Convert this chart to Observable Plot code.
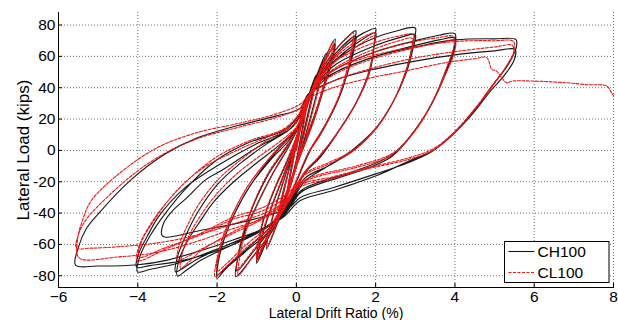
<!DOCTYPE html>
<html><head><meta charset="utf-8">
<script src="https://cdn.jsdelivr.net/npm/d3@7"></script>
<script src="https://cdn.jsdelivr.net/npm/@observablehq/plot@0.6"></script>
<style>
body{margin:0;background:#fff;}
#wrap{position:relative;width:618px;height:320px;overflow:hidden;font-family:"Liberation Sans",Arial,Helvetica,sans-serif;}
</style></head><body><div id="wrap"></div>
<script>
// ---- axes ----
const xTicks = [-6, -4, -2, 0, 2, 4, 6, 8];
const yTicks = [-80, -60, -40, -20, 0, 20, 40, 60, 80];
const seriesNames = ["CH100", "CL100"];
const seriesColors = ["#1a1a1a", "#f01414"];

// ---- CH100 (black) : [drift %, load kips] ----
const ch100Small = [
[0,0],[0.1,14],[0.25,30],
[0.15,14],[0,-6],[-0.12,-18],[-0.25,-30],
[-0.15,-14],[0,6],[0.12,18],[0.25,29],
[0.15,13],[0,-7],[-0.12,-19],[-0.25,-29],
[-0.12,-12],[0.05,10],[0.25,30],[0.5,48],
[0.35,30],[0.15,8],[0,-8],[-0.2,-26],[-0.5,-48],
[-0.35,-30],[-0.15,-8],[0,8],[0.2,26],[0.5,47],
[0.35,29],[0.15,7],[0,-9],[-0.2,-27],[-0.5,-47],
[-0.33,-26],[-0.1,-4],[0.1,16],[0.4,40],[0.75,62],
[0.55,40],[0.3,16],[0.05,-6],[-0.25,-30],[-0.5,-48],[-0.75,-63]
];
const ch100Mid = [
[-0.65,-48],[-0.45,-30],[-0.2,-10],[0.05,10],[0.3,32],[0.6,52],[0.98,71],
[0.9,60],[0.7,42],[0.45,22],[0.15,2],[-0.15,-20],[-0.45,-42],[-0.75,-58],[-1,-72],
[-0.9,-58],[-0.65,-38],[-0.35,-18],[-0.05,3],[0.2,22],[0.5,45],[0.98,68],
[0.9,57],[0.7,40],[0.45,20],[0.15,0],[-0.15,-20],[-0.45,-40],[-0.75,-56],[-1,-70],
[-0.95,-58],[-0.8,-42],[-0.55,-25],[-0.25,-8],[0,8],[0.2,25],[0.45,42],[0.8,58],[1.2,70],[1.5,76.4],
[1.47,70],[1.35,55],[1.1,35],[0.7,15],[0.35,0],[0,-20],[-0.3,-38],[-0.7,-55],[-1.1,-68],[-1.53,-80.6],
[-1.47,-68],[-1.3,-52],[-1.0,-35],[-0.6,-15],[-0.2,2],[0.1,18],[0.35,35],[0.7,52],[1.1,65],[1.5,73],
[1.45,64],[1.3,50],[1.05,32],[0.65,12],[0.3,-2],[0,-20],[-0.3,-36],[-0.7,-52],[-1.1,-65],[-1.5,-77]
];
const ch100Drift23 = [
[-1.45,-65],[-1.3,-50],[-1.05,-33],[-0.7,-15],[-0.3,0],[0,12],[0.2,28],[0.5,45],[0.9,58],[1.3,68],[1.7,75],[2,77.7],
[1.99,74],[1.86,52.7],[1.53,31.5],[1.02,10.4],[0.6,-4.4],[0.2,-15],[-0.2,-35],[-0.7,-52],[-1.3,-65],[-1.8,-76],[-2,-81.7],
[-1.96,-70],[-1.8,-55],[-1.55,-40],[-1.15,-22],[-0.65,-6],[-0.2,6],[0.1,18],[0.3,33],[0.6,47],[1,58],[1.5,68],[2,75],
[1.97,68],[1.85,50],[1.5,30],[1.0,10],[0.55,-5],[0.2,-15],[-0.2,-34],[-0.7,-50],[-1.3,-64],[-1.75,-74],[-2,-79.5],
[-1.95,-68],[-1.8,-55],[-1.55,-40],[-1.2,-24],[-0.75,-8],[-0.3,5],[0.05,15],[0.25,32],[0.6,48],[1,58],[1.5,66],[2,72],[2.5,76],[3,78.1],
[2.95,69.7],[2.79,52.7],[2.45,31.5],[2.03,14.6],[1.44,0],[0.8,-10],[0.2,-18],[-0.2,-36],[-0.8,-50],[-1.6,-60],[-2.4,-70],[-2.8,-77],[-3,-80.2],
[-2.96,-70],[-2.75,-58],[-2.42,-45],[-2.09,-33],[-1.58,-20],[-1,-8],[-0.4,4],[0,14],[0.25,30],[0.6,45],[1,55],[2,67],[2.6,72],[3,73.9],
[2.95,66],[2.78,50],[2.42,30],[2,14],[1.4,0],[0.8,-10],[0.2,-20],[-0.2,-36],[-0.8,-50],[-1.6,-60],[-2.4,-68],[-2.85,-75],[-3.05,-77.5]
];
const ch100Large = [
[-3,-68],[-2.8,-55],[-2.5,-40],[-2,-22],[-1.4,-8],[-0.7,5],[-0.1,15],[0.2,30],[0.5,42],[1,52],[2,63],[3,70],[3.6,73.5],[4,74.5],
[4,67.6],[3.8,52.7],[3.45,31.5],[3.04,14.6],[2.45,-2.2],[1.5,-13],[0.5,-21],[0.1,-26],[-0.3,-40],[-1,-52],[-2,-63],[-3,-72],[-3.7,-76],[-4.01,-77.5],
[-3.95,-68],[-3.7,-55],[-3.3,-40],[-2.7,-22],[-2,-6],[-1.2,5],[-0.3,13],[0.15,25],[0.5,40],[1,50],[2,60],[3,67],[3.6,70.5],[4,71.7],
[3.98,64],[3.78,50],[3.42,30],[3,13],[2.4,-4],[1.5,-14],[0.5,-22],[0.1,-27],[-0.3,-41],[-1,-53],[-2,-64],[-3,-71],[-3.7,-73.5],[-4.03,-74.5],
[-3.98,-66],[-3.7,-52],[-3.49,-42.7],[-2.8,-23.6],[-1.91,-8.5],[-1,4.2],[-0.12,14.4],[0.2,28],[0.5,42],[1,50],[2,60],[3,66],[4,70.5],[5,71.2],[5.54,70.7],
[5.55,66],[5.35,55],[4.96,42],[4.5,26],[3.97,10.5],[3.45,0],[2.87,-6.5],[2.03,-16],[0.93,-25.6],[0.1,-32],[-0.3,-42],[-0.74,-49],[-1.58,-57],[-2.42,-64],[-3.25,-70],[-4,-73],[-5,-73.8],[-5.57,-73.2],
[-5.5,-62],[-5.3,-50],[-4.98,-40],[-4.18,-19],[-3.3,-2.2],[-2.5,8],[-1.5,15.7],[-0.5,22],[0.1,27],[0.3,36],[1,45],[2,52],[3,57],[4,61],[5,63.5],[5.52,64.4],
[5.5,58],[5.25,48],[4.9,38],[4.4,22],[3.9,9],[3.4,-1],[2.8,-8],[2,-15],[0.9,-24],[0.1,-30],[-0.2,-37],[-0.8,-42],[-1.5,-46.6],[-2.4,-51],[-3.3,-55.4],[-3.39,-54.2],
[-3.35,-46.5],[-3.1,-38],[-2.75,-30],[-2.3,-19],[-1.9,-13],[-1,1.7],[-0.12,14.4],[0.15,24]
];

// ---- CL100 (red) ----
const cl100Small = [
[0,0],[0.1,13],[0.25,28],
[0.15,12],[0,-7],[-0.12,-18],[-0.25,-30],
[-0.15,-14],[0,5],[0.12,16],[0.25,27],
[0.15,11],[0,-8],[-0.12,-19],[-0.25,-29],
[-0.12,-12],[0.05,9],[0.25,28],[0.5,46],
[0.35,28],[0.15,6],[0,-9],[-0.2,-26],[-0.5,-47],
[-0.35,-30],[-0.15,-9],[0,7],[0.2,24],[0.5,45],
[0.35,27],[0.15,5],[0,-10],[-0.2,-27],[-0.5,-46],
[-0.33,-26],[-0.1,-5],[0.1,14],[0.4,38],[0.75,60],
[0.55,38],[0.3,14],[0.05,-7],[-0.25,-30],[-0.5,-47],[-0.75,-62]
];
const cl100Mid = [
[-0.65,-47],[-0.45,-29],[-0.2,-9],[0.05,10],[0.3,31],[0.6,50],[0.93,69.6],
[0.86,59],[0.68,41],[0.44,21],[0.14,1],[-0.15,-19],[-0.45,-41],[-0.75,-57],[-1,-70],
[-0.9,-56],[-0.65,-37],[-0.35,-17],[-0.05,4],[0.2,22],[0.5,44],[0.95,67],
[0.88,56],[0.68,39],[0.44,19],[0.14,-1],[-0.15,-20],[-0.45,-39],[-0.75,-55],[-1,-68],
[-0.95,-56],[-0.8,-41],[-0.55,-24],[-0.25,-7],[0,9],[0.2,25],[0.45,42],[0.8,57],[1.15,69],[1.44,75],
[1.42,69],[1.3,54],[1.06,34],[0.68,14],[0.33,0],[0,-19],[-0.3,-37],[-0.7,-54],[-1.08,-67],[-1.46,-79.6],
[-1.42,-67],[-1.26,-51],[-0.97,-34],[-0.58,-14],[-0.2,3],[0.1,19],[0.35,35],[0.7,51],[1.08,63],[1.45,72],
[1.4,63],[1.27,49],[1.02,31],[0.63,11],[0.3,-2],[0,-19],[-0.3,-35],[-0.7,-51],[-1.1,-64],[-1.5,-76]
];
const cl100Drift23 = [
[-1.45,-64],[-1.3,-49],[-1.05,-32],[-0.7,-14],[-0.3,1],[0,13],[0.2,28],[0.5,44],[0.9,57],[1.3,66],[1.7,72.5],[1.99,75],
[1.97,70],[1.84,51],[1.51,30.5],[1.0,10],[0.58,-4],[0.2,-14],[-0.2,-33],[-0.7,-50],[-1.3,-63],[-1.8,-75],[-2.05,-80.6],
[-2.0,-69],[-1.84,-54],[-1.58,-39],[-1.18,-21],[-0.68,-5],[-0.22,7],[0.1,19],[0.3,33],[0.6,46],[1,57],[1.5,66],[1.98,73],
[1.95,66],[1.83,49],[1.48,29],[0.98,9],[0.53,-5],[0.2,-14],[-0.2,-32],[-0.7,-48],[-1.3,-61],[-1.75,-72],[-2,-77],
[-1.95,-66],[-1.8,-53],[-1.55,-38],[-1.2,-22],[-0.75,-7],[-0.3,6],[0.05,16],[0.25,32],[0.6,47],[1,57],[1.5,64],[2,69],[2.5,72.5],[2.95,73.9],
[2.93,67],[2.77,51],[2.43,30.5],[2.0,14],[1.42,0],[0.8,-8],[0.2,-15],[-0.2,-30],[-0.8,-42],[-1.6,-52],[-2.4,-64],[-2.75,-72],[-2.92,-75.3],
[-2.88,-66],[-2.7,-54],[-2.4,-41],[-2.05,-29],[-1.55,-16],[-1,-5],[-0.4,6],[0,15],[0.25,30],[0.6,44],[1,53],[2,65],[2.6,70],[2.92,71.5],
[2.9,64],[2.75,49],[2.4,29],[1.98,13],[1.4,-1],[0.8,-9],[0.2,-16],[-0.2,-31],[-0.8,-43],[-1.6,-53],[-2.4,-63],[-2.8,-68.5],[-3,-70]
];
const cl100Large = [
[-2.95,-60],[-2.75,-48],[-2.45,-34],[-1.95,-18],[-1.35,-5],[-0.7,7],[-0.1,16],[0.2,30],[0.5,42],[1,52],[2,63],[3,69.5],[3.6,72],[3.95,72.8],
[3.97,66],[3.78,52],[3.43,31],[3.02,14],[2.45,-1.5],[1.5,-10],[0.5,-16],[0.05,-21],[-0.25,-28],[-0.9,-37],[-1.58,-42.5],[-2.42,-53],[-3.3,-63],[-4.02,-70.3],
[-3.95,-60],[-3.7,-48],[-3.3,-34],[-2.7,-18],[-2,-4],[-1.2,6],[-0.3,14],[0.15,26],[0.5,40],[1,49],[2,59],[3,65.5],[3.6,68.5],[4,70],
[3.98,62],[3.77,49],[3.4,29],[2.98,12],[2.4,-3],[1.5,-11],[0.5,-17],[0.05,-22],[-0.25,-30],[-0.9,-39],[-1.6,-44],[-2.42,-54],[-3.3,-62],[-3.97,-68],
[-3.9,-58],[-3.6,-45],[-3.1,-28],[-2.4,-12],[-1.5,0],[-0.6,10],[0,18],[0.2,30],[0.5,42],[1,52],[2,61],[3,66],[4,69.5],[5,70],[5.47,69.6],
[5.5,64],[5.3,54],[4.95,41],[4.5,26],[3.97,11],[3.45,0],[2.8,-6],[1.78,-11.8],[0.9,-18],[0.1,-23.5],[-0.3,-35],[-0.8,-43],[-1.6,-50],[-2.5,-58],[-3.5,-65],[-4.5,-68],[-5.48,-68.6],
[-5.52,-57],[-5.4,-45],[-5.17,-32],[-4.48,-15],[-3.49,2],[-2.5,11.4],[-1.5,17],[-0.5,23.3],[0.1,29.6],[0.35,36],[1,45],[2,53],[3,59],[4,63],[5,66],[5.45,67],
[5.48,62],[5.25,52],[4.9,40],[4.45,25],[3.95,11],[3.45,1],[2.8,-5],[1.8,-11],[0.9,-17],[0.1,-22],[-0.3,-33],[-0.8,-40],[-1.6,-47],[-2.5,-54],[-3.5,-59],[-4.5,-61.5],[-5.2,-62.4],[-5.55,-62.2],
[-5.5,-54],[-5.3,-44],[-4.94,-34],[-4.2,-17],[-3.4,-3],[-2.5,7.5],[-1.5,14.5],[-0.5,21],[0.1,27],[0.3,33],[0.93,40],[2,47],[2.62,50],[3.77,56],[4.5,58.5],[4.8,59.2],[4.93,51.7],[5.05,50.6],[5.3,43.2],[5.45,44.2],[5.9,44.3],[6.8,43.2],[7.3,42],[7.83,41],[7.95,36.8],[8,35]
];

const toRows = (pts) => pts.map(([x, y]) => ({x, y}));
const chRows = toRows([...ch100Small, ...ch100Mid, ...ch100Drift23, ...ch100Large]);
const clRows = toRows([...cl100Small, ...cl100Mid, ...cl100Drift23, ...cl100Large]);

const font = "'Liberation Sans', Arial, Helvetica, sans-serif";
const gridStyle = {stroke: "#6e6e6e", strokeOpacity: 1, strokeWidth: 1, strokeDasharray: "1,2"};

const chart = Plot.plot({
  width: 618, height: 320,
  marginLeft: 58, marginRight: 5, marginTop: 12, marginBottom: 33,
  x: {domain: [-6, 8]},
  y: {domain: [-87.5, 88]},
  style: {fontFamily: font, fontSize: "15px", color: "#000", background: "#fff", overflow: "visible"},
  marks: [
    Plot.gridX(xTicks, gridStyle),
    Plot.gridY(yTicks, gridStyle),
    Plot.line(chRows, {x: "x", y: "y", stroke: seriesColors[0], strokeWidth: 1.15, curve: "catmull-rom"}),
    Plot.line(clRows, {x: "x", y: "y", stroke: seriesColors[1], strokeWidth: 1.1, strokeDasharray: "3,1.5", curve: "catmull-rom"}),
    Plot.frame({anchor: "left", stroke: "#000"}),
    Plot.frame({anchor: "bottom", stroke: "#000"}),
    Plot.axisX(xTicks, {tickSize: -4, tickPadding: 7.5, fontSize: 15.5, label: null}),
    Plot.axisX({tickSize: 0, ticks: [], fontSize: 14, label: "Lateral Drift Ratio (%)", labelAnchor: "center", labelArrow: "none", labelOffset: 30}),
    Plot.axisY(yTicks, {tickSize: -4, tickPadding: 7, fontSize: 15.5, tickFormat: d => String(d).replace("\u2212", "-"), label: null}),
    Plot.axisY({tickSize: 0, ticks: [], fontSize: 17, label: "Lateral Load (kips)", labelAnchor: "center", labelArrow: "none", labelOffset: 42})
  ]
});
const wrap = document.getElementById("wrap");
wrap.appendChild(chart);

// legend box (inside the plot area, lower right)
const rowsLeg = seriesNames.map((n, i) => {
  const y = 10.5 + i * 21;
  const dash = i === 1 ? ' stroke-dasharray="3,1.5"' : '';
  return `<line x1="4.5" x2="30.5" y1="${y}" y2="${y}" stroke="${seriesColors[i]}" stroke-width="1.1"${dash}/>` +
         `<text x="33.5" y="${y + 5.6}" font-size="15.5" font-family="${font.replace(/'/g, "")}" fill="#000">${n}</text>`;
}).join("");
const leg = document.createElement("div");
leg.innerHTML = `<svg width="106" height="43" style="position:absolute;left:504px;top:241px;overflow:visible">
<rect x="0.5" y="0.5" width="104.5" height="41" fill="#fff" stroke="#000" stroke-width="1"/>${rowsLeg}</svg>`;
wrap.appendChild(leg.firstElementChild);
</script></body></html>
